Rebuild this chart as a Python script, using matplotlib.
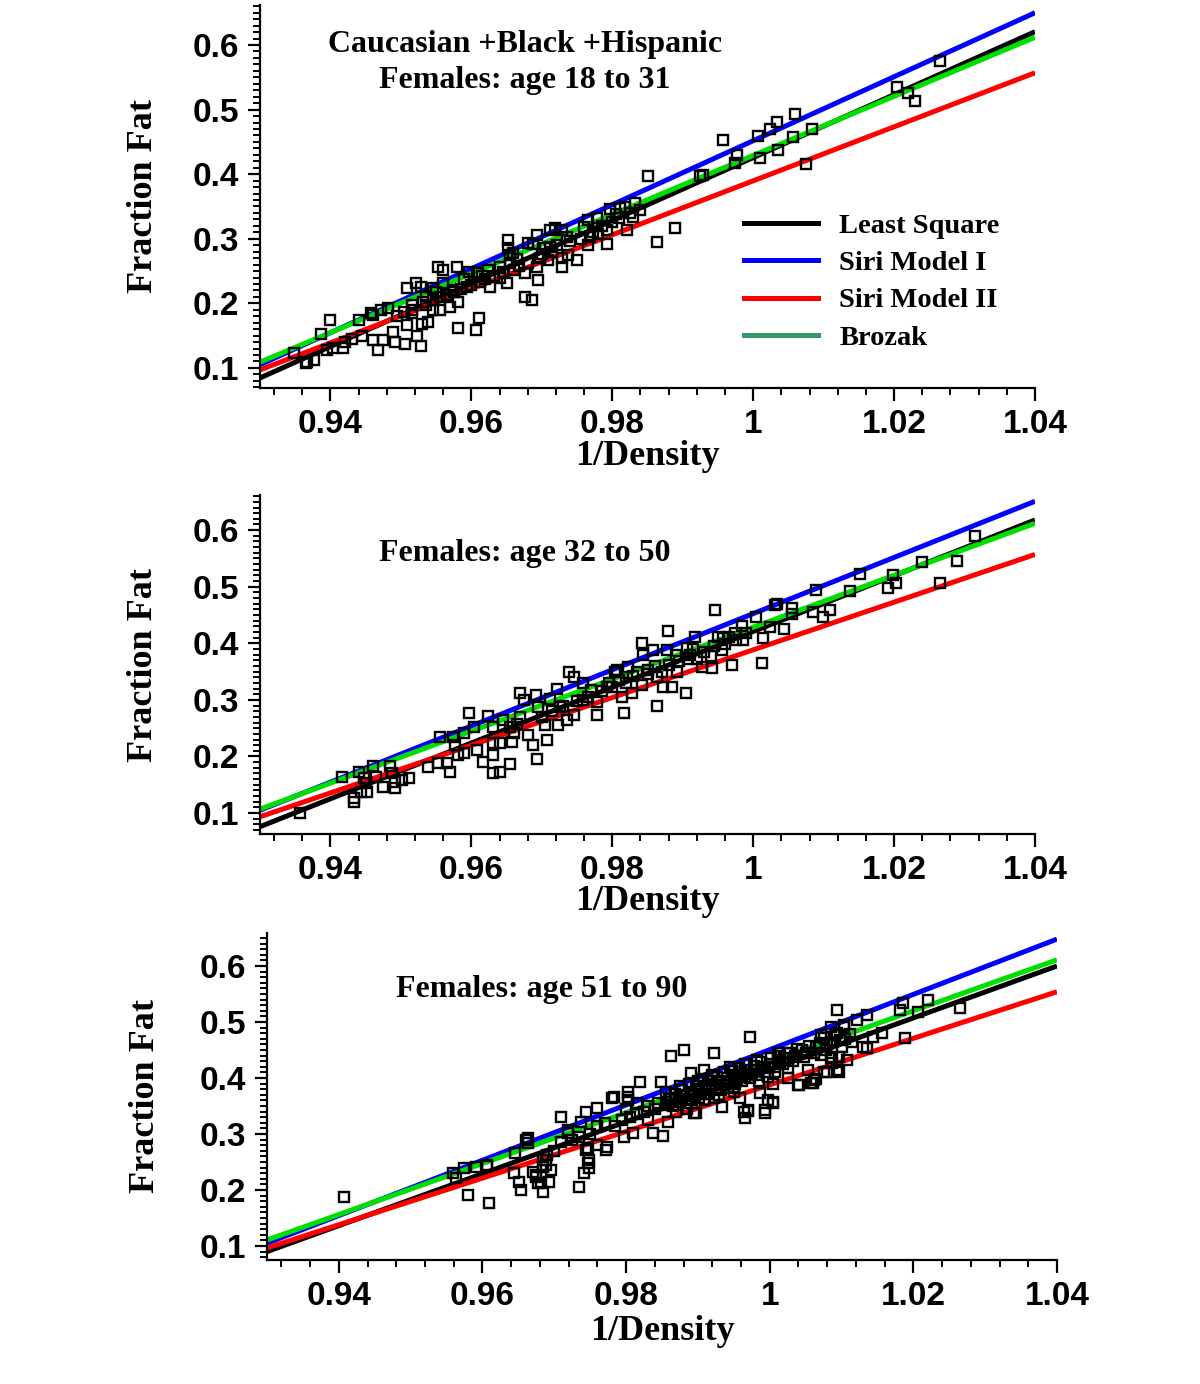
import numpy as np
import matplotlib
matplotlib.use("Agg")
import matplotlib.pyplot as plt
from matplotlib.ticker import MultipleLocator, FormatStrFormatter
from matplotlib.lines import Line2D

# line ends at x = 0.93 and x = 1.04
line_x = [0.93, 1.04]
least_sq = [[0.0845, 0.6206], [0.076, 0.618], [0.090, 0.600]]
siri1 = [[0.105, 0.650], [0.105, 0.651], [0.105, 0.648]]
siri2 = [[0.097, 0.557], [0.0935, 0.557], [0.0964, 0.554]]
brozak = [[0.109, 0.612], [0.107, 0.612], [0.1107, 0.611]]

titles = [["Caucasian +Black +Hispanic", "Females: age 18 to 31"],
          ["Females: age 32 to 50"],
          ["Females: age 51 to 90"]]

# panel 1 data (1/density, fraction fat)
p1 = [(0.9348, 0.123), (0.9365, 0.108), (0.9367, 0.109), (0.9376, 0.112), (0.9386, 0.153),
      (0.9400, 0.174), (0.9404, 0.131), (0.9418, 0.131), (0.9440, 0.174), (0.9457, 0.185),
      (0.9460, 0.143), (0.9460, 0.182), (0.9468, 0.128), (0.9471, 0.190), (0.9475, 0.143),
      (0.9482, 0.193), (0.9489, 0.156), (0.9492, 0.140), (0.9506, 0.137), (0.9509, 0.167),
      (0.9509, 0.224), (0.9516, 0.197), (0.9516, 0.185), (0.9521, 0.232), (0.9523, 0.149),
      (0.9528, 0.225), (0.9528, 0.134), (0.9530, 0.168), (0.9532, 0.202), (0.9539, 0.171),
      (0.9546, 0.224), (0.9546, 0.190), (0.9552, 0.256), (0.9556, 0.190), (0.9560, 0.252),
      (0.9560, 0.232), (0.9570, 0.194), (0.9574, 0.221), (0.9580, 0.256), (0.9581, 0.202),
      (0.9581, 0.162), (0.9594, 0.225), (0.9596, 0.249), (0.9606, 0.159), (0.9608, 0.247),
      (0.9611, 0.177), (0.9623, 0.252), (0.9627, 0.225), (0.9641, 0.256), (0.9651, 0.232),
      (0.9652, 0.298), (0.9652, 0.286), (0.9659, 0.278), (0.9676, 0.247), (0.9676, 0.210),
      (0.9681, 0.294), (0.9686, 0.205), (0.9693, 0.306), (0.9693, 0.256), (0.9695, 0.236),
      (0.9655, 0.275), (0.9688, 0.292), (0.9712, 0.314), (0.9719, 0.317), (0.9729, 0.314),
      (0.9712, 0.287), (0.9698, 0.270), (0.9709, 0.267), (0.9729, 0.270), (0.9737, 0.275),
      (0.9750, 0.267), (0.9729, 0.256), (0.9766, 0.329), (0.9769, 0.303), (0.9766, 0.290),
      (0.9779, 0.332), (0.9793, 0.314), (0.9793, 0.292), (0.9797, 0.346), (0.9811, 0.348),
      (0.9818, 0.349), (0.9821, 0.314), (0.9830, 0.334), (0.9832, 0.356), (0.9850, 0.397),
      (0.9864, 0.295), (0.9889, 0.317), (0.9925, 0.397), (0.9929, 0.399), (0.9957, 0.453),
      (0.9977, 0.430), (0.9974, 0.417), (1.0007, 0.459), (1.0010, 0.425), (1.0024, 0.470),
      (1.0034, 0.481), (1.0035, 0.438), (1.0060, 0.493), (1.0057, 0.458), (1.0084, 0.470),
      (1.0075, 0.416), (1.0204, 0.535), (1.0220, 0.526), (1.0230, 0.514), (1.0265, 0.575),
      (0.9495, 0.180), (0.9505, 0.186), (0.9515, 0.190), (0.9535, 0.198), (0.9545, 0.205),
      (0.9555, 0.210), (0.9565, 0.213), (0.9575, 0.217), (0.9585, 0.222), (0.9600, 0.228),
      (0.9612, 0.233), (0.9620, 0.238), (0.9632, 0.242), (0.9645, 0.248), (0.9660, 0.252),
      (0.9668, 0.258), (0.9680, 0.262), (0.9700, 0.276), (0.9715, 0.280), (0.9722, 0.290),
      (0.9740, 0.296), (0.9755, 0.300), (0.9772, 0.310), (0.9785, 0.320), (0.9800, 0.326),
      (0.9810, 0.332), (0.9825, 0.340), (0.9840, 0.345), (0.9395, 0.128), (0.9430, 0.145),
      (0.9445, 0.150), (0.9420, 0.140), (0.9535, 0.212), (0.9550, 0.218), (0.9590, 0.238),
      (0.9615, 0.243), (0.9640, 0.240), (0.9655, 0.262), (0.9665, 0.268), (0.9705, 0.285),
      (0.9735, 0.303), (0.9760, 0.318), (0.9780, 0.308), (0.9805, 0.338)]

p2 = [(0.9357, 0.100), (0.9417, 0.1635), (0.9433, 0.126), (0.9433, 0.119), (0.9440, 0.172),
      (0.9443, 0.137), (0.9447, 0.162), (0.9450, 0.153), (0.9452, 0.137), (0.9461, 0.183),
      (0.9464, 0.164), (0.9474, 0.146), (0.9485, 0.183), (0.9488, 0.171), (0.9492, 0.155),
      (0.9492, 0.144), (0.9502, 0.158), (0.9511, 0.162), (0.9539, 0.181), (0.9553, 0.188),
      (0.9556, 0.234), (0.9566, 0.188), (0.9570, 0.172), (0.9574, 0.234), (0.9577, 0.220),
      (0.9581, 0.202), (0.9589, 0.206), (0.9589, 0.241), (0.9596, 0.276), (0.9603, 0.252),
      (0.9608, 0.211), (0.9617, 0.190), (0.9623, 0.271), (0.9630, 0.202), (0.9630, 0.171),
      (0.9641, 0.172), (0.9631, 0.252), (0.9630, 0.2235), (0.9641, 0.2235), (0.9645, 0.264),
      (0.9658, 0.225), (0.9655, 0.186), (0.9660, 0.241), (0.9669, 0.312), (0.9674, 0.299),
      (0.9669, 0.269), (0.9681, 0.238), (0.9688, 0.220), (0.9693, 0.195), (0.9691, 0.308),
      (0.9695, 0.287), (0.9708, 0.229), (0.9705, 0.255), (0.9712, 0.301), (0.9722, 0.320),
      (0.9726, 0.287), (0.9723, 0.255), (0.9738, 0.349), (0.9745, 0.340), (0.9736, 0.264),
      (0.9745, 0.273), (0.9759, 0.299), (0.9759, 0.329), (0.9779, 0.273), (0.9779, 0.296),
      (0.9793, 0.322), (0.9804, 0.349), (0.9814, 0.305), (0.9816, 0.276), (0.9807, 0.352),
      (0.9822, 0.358), (0.9828, 0.312), (0.9842, 0.326), (0.9842, 0.400), (0.9844, 0.379),
      (0.9850, 0.352), (0.9858, 0.388), (0.9864, 0.340), (0.9864, 0.289), (0.9872, 0.322),
      (0.9885, 0.322), (0.9879, 0.421), (0.9878, 0.388), (0.9892, 0.349), (0.9904, 0.313),
      (0.9906, 0.391), (0.9908, 0.373), (0.9918, 0.412), (0.9920, 0.373), (0.9928, 0.358),
      (0.9942, 0.356), (0.9946, 0.458), (0.9950, 0.412), (0.9957, 0.409), (0.9956, 0.388),
      (0.9970, 0.361), (0.9974, 0.418), (0.9984, 0.430), (0.9986, 0.405), (1.0004, 0.446),
      (1.0013, 0.365), (1.0014, 0.410), (1.0024, 0.428), (1.0034, 0.469), (1.0044, 0.425),
      (1.0031, 0.467), (1.0055, 0.463), (1.0055, 0.451), (1.0085, 0.455), (1.0099, 0.446),
      (1.0109, 0.458), (1.0089, 0.495), (1.0137, 0.493), (1.0152, 0.523), (1.0191, 0.497),
      (1.0198, 0.520), (1.0203, 0.507), (1.0240, 0.543), (1.0265, 0.506), (1.0289, 0.546),
      (1.0315, 0.590),
      (0.9655, 0.252), (0.9665, 0.258), (0.9700, 0.270), (0.9715, 0.280), (0.9730, 0.290),
      (0.9750, 0.298), (0.9765, 0.305), (0.9785, 0.315), (0.9795, 0.330), (0.9810, 0.335),
      (0.9830, 0.342), (0.9850, 0.345), (0.9860, 0.360), (0.9880, 0.362), (0.9895, 0.368),
      (0.9910, 0.380), (0.9930, 0.385), (0.9945, 0.395), (0.9960, 0.398), (0.9975, 0.405),
      (0.9770, 0.318), (0.9800, 0.322), (0.9820, 0.330), (0.9835, 0.350), (0.9870, 0.350),
      (0.9890, 0.380), (0.9915, 0.390), (0.9940, 0.378), (0.9965, 0.412), (0.9990, 0.418)]

p3 = [(0.9407, 0.1875), (0.9559, 0.230), (0.9563, 0.221), (0.9574, 0.239), (0.9580, 0.191),
      (0.9591, 0.241), (0.9607, 0.243), (0.9607, 0.2447), (0.9609, 0.177), (0.9644, 0.230),
      (0.9646, 0.266), (0.9651, 0.214), (0.9653, 0.200), (0.9660, 0.289), (0.9663, 0.293),
      (0.9663, 0.284), (0.9670, 0.232), (0.9674, 0.223), (0.9674, 0.2268), (0.9678, 0.2125),
      (0.9681, 0.2125), (0.9685, 0.196), (0.9685, 0.241), (0.9692, 0.2143), (0.9695, 0.236),
      (0.9688, 0.2447), (0.9685, 0.2536), (0.9688, 0.254), (0.9709, 0.330), (0.9719, 0.302),
      (0.9719, 0.307), (0.9737, 0.3215), (0.9744, 0.339), (0.9760, 0.3465), (0.9734, 0.2054),
      (0.9741, 0.2304), (0.9747, 0.248), (0.9748, 0.2536), (0.9747, 0.275), (0.9760, 0.2804),
      (0.9774, 0.2768), (0.9744, 0.2714), (0.9748, 0.239), (0.9781, 0.364), (0.9802, 0.375),
      (0.9802, 0.366), (0.9797, 0.2947), (0.9810, 0.302), (0.9820, 0.393), (0.9848, 0.393),
      (0.9838, 0.302), (0.9851, 0.2965), (0.9858, 0.3215), (0.9862, 0.439), (0.9880, 0.450),
      (0.9890, 0.409), (0.9894, 0.3375), (0.9897, 0.3375), (0.9922, 0.4445), (0.9934, 0.348),
      (0.9973, 0.473), (0.9970, 0.343), (0.9966, 0.3286), (0.9964, 0.339), (0.9983, 0.432),
      (0.9772, 0.2714), (0.9783, 0.366), (0.9802, 0.3607), (0.9994, 0.3375), (1.0004, 0.357),
      (0.9997, 0.418), (1.0011, 0.432), (1.0025, 0.418), (1.0040, 0.3875), (1.0060, 0.391),
      (1.0064, 0.398), (1.0075, 0.411), (1.0096, 0.411), (1.0085, 0.436), (1.0071, 0.477),
      (1.0085, 0.491), (1.0091, 0.477), (1.0103, 0.491), (1.0094, 0.5215), (1.0122, 0.5036),
      (1.0136, 0.5125), (1.0130, 0.4554), (1.0136, 0.4536), (1.0144, 0.473), (1.0157, 0.480),
      (1.0189, 0.4715), (1.0182, 0.5215), (1.0185, 0.534), (1.0221, 0.539), (1.0265, 0.525),
      (1.0108, 0.432), (1.0206, 0.518), (0.9908, 0.414), (0.9950, 0.384), (0.9959, 0.364),
      (0.9970, 0.341), (0.9987, 0.373), (0.9998, 0.3607), (1.0004, 0.3554), (0.9994, 0.343),
      (1.0008, 0.411), (0.9997, 0.402), (1.0026, 0.4445), (1.0053, 0.414), (1.0057, 0.391),
      (1.0061, 0.3965), (1.0041, 0.3875), (1.0071, 0.441), (1.0087, 0.4375), (1.0096, 0.4375),
      (1.0087, 0.427), (1.0080, 0.411), (1.0094, 0.414), (1.0098, 0.468), (1.0103, 0.4945),
      (1.0094, 0.480), (1.0075, 0.4715), (1.0011, 0.4445),
      (0.9785, 0.315), (0.9795, 0.325), (0.9805, 0.330), (0.9815, 0.335), (0.9825, 0.340),
      (0.9830, 0.350), (0.9840, 0.345), (0.9845, 0.355), (0.9855, 0.352), (0.9860, 0.362),
      (0.9865, 0.350), (0.9870, 0.365), (0.9875, 0.358), (0.9880, 0.370), (0.9885, 0.362),
      (0.9890, 0.375), (0.9895, 0.368), (0.9900, 0.380), (0.9905, 0.372), (0.9910, 0.385),
      (0.9915, 0.378), (0.9920, 0.390), (0.9925, 0.382), (0.9930, 0.395), (0.9935, 0.388),
      (0.9940, 0.400), (0.9945, 0.392), (0.9950, 0.405), (0.9955, 0.398), (0.9960, 0.410),
      (0.9965, 0.402), (0.9975, 0.408), (0.9980, 0.415), (0.9990, 0.420), (1.0000, 0.425),
      (1.0015, 0.428), (1.0020, 0.435), (1.0035, 0.440), (1.0045, 0.450), (1.0050, 0.445),
      (1.0065, 0.455), (1.0080, 0.460), (1.0100, 0.455), (1.0115, 0.465), (0.9870, 0.340),
      (0.9885, 0.345), (0.9910, 0.360), (0.9930, 0.370), (0.9950, 0.375), (0.9900, 0.395),
      (0.9920, 0.405), (0.9945, 0.420), (0.9965, 0.425), (0.9985, 0.395), (1.0005, 0.390),
      (1.0025, 0.400), (0.9855, 0.375), (0.9875, 0.385), (0.9830, 0.325), (0.9815, 0.355),
      (0.9800, 0.345), (0.9770, 0.320), (0.9760, 0.315), (0.9750, 0.300), (0.9735, 0.295),
      (0.9725, 0.290), (0.9710, 0.285), (0.9700, 0.270), (0.9690, 0.262),
      (0.9862, 0.365), (0.9868, 0.372), (0.9872, 0.352), (0.9878, 0.378), (0.9883, 0.355),
      (0.9888, 0.390), (0.9892, 0.360), (0.9898, 0.386), (0.9902, 0.365), (0.9907, 0.398),
      (0.9912, 0.372), (0.9917, 0.395), (0.9922, 0.365), (0.9927, 0.402), (0.9932, 0.378),
      (0.9937, 0.410), (0.9942, 0.383), (0.9947, 0.412), (0.9952, 0.390), (0.9957, 0.418),
      (0.9962, 0.395), (0.9968, 0.415), (0.9972, 0.400), (0.9978, 0.422), (0.9982, 0.405),
      (0.9988, 0.428), (0.9993, 0.410), (1.0002, 0.435), (1.0008, 0.420), (1.0013, 0.440),
      (1.0018, 0.425), (1.0028, 0.445), (1.0033, 0.430), (1.0038, 0.452), (1.0048, 0.438),
      (1.0055, 0.458), (1.0062, 0.445), (1.0070, 0.462), (1.0078, 0.450), (1.0088, 0.465),
      (1.0105, 0.470), (1.0112, 0.478)]

points = [p1, p2, p3]

# layout in figure fractions (left, bottom, width, height)
boxes = [[0.2167, 0.7197, 0.6458, 0.2767],
         [0.2167, 0.3974, 0.6458, 0.2449],
         [0.2225, 0.0896, 0.6583, 0.2363]]
ylims = [(0.069, 0.662), (0.063, 0.662), (0.075, 0.659)]
title_pos = [[(0.342, 0.898), (0.342, 0.804)], [(0.342, 0.829)], [(0.348, 0.826)]]
xlabel_y = [-0.136, -0.150, -0.168]
ylabel_x = [-0.129, -0.129, -0.133]

serif = 'Liberation Serif'
sans = 'Liberation Sans'

fig = plt.figure(figsize=(12, 13.84), dpi=100)

for i in range(3):
    ax = fig.add_axes(boxes[i])
    ax.plot(line_x, least_sq[i], color='black', lw=3.6, solid_capstyle='butt', zorder=2)
    ax.plot(line_x, siri1[i], color='#0000ff', lw=3.6, solid_capstyle='butt', zorder=2)
    ax.plot(line_x, siri2[i], color='#ff0000', lw=3.6, solid_capstyle='butt', zorder=2)
    ax.plot(line_x, brozak[i], color='#00e000', lw=3.6, solid_capstyle='butt', zorder=2)
    xs = [p[0] for p in points[i]]
    ys = [p[1] for p in points[i]]
    ax.plot(xs, ys, 's', ms=7.8, mfc='none', mec='black', mew=1.7, zorder=3)

    ax.set_xlim(0.93, 1.04)
    ax.set_ylim(*ylims[i])
    for s in ['top', 'right']:
        ax.spines[s].set_visible(False)
    for s in ['left', 'bottom']:
        ax.spines[s].set_linewidth(1.6)
    ax.xaxis.set_major_locator(MultipleLocator(0.02))
    ax.xaxis.set_minor_locator(MultipleLocator(0.004))
    ax.yaxis.set_major_locator(MultipleLocator(0.1))
    ax.yaxis.set_minor_locator(MultipleLocator(0.01))
    ax.xaxis.set_major_formatter(plt.FuncFormatter(lambda v, p: ('%g' % round(v, 4))))
    ax.yaxis.set_major_formatter(FormatStrFormatter('%.1f'))
    ax.tick_params(which='major', direction='out', length=9, width=1.6, pad=6)
    ax.tick_params(which='minor', direction='out', length=5, width=1.4)
    for lab in ax.get_xticklabels() + ax.get_yticklabels():
        lab.set_fontfamily(sans)
        lab.set_fontweight('bold')
        lab.set_fontsize(24)

    ax.set_xlabel('1/Density', fontfamily=serif, fontweight='bold', fontsize=26)
    ax.set_ylabel('Fraction Fat', fontfamily=serif, fontweight='bold', fontsize=26)
    ax.xaxis.set_label_coords(0.5, xlabel_y[i])
    ax.yaxis.set_label_coords(ylabel_x[i], 0.5)

    for t, pos in zip(titles[i], title_pos[i]):
        ax.text(pos[0], pos[1], t, transform=ax.transAxes, ha='center', va='center',
                fontfamily=serif, fontweight='bold', fontsize=23)

    if i == 0:
        handles = [Line2D([], [], color='black', lw=3.6),
                   Line2D([], [], color='#0000ff', lw=3.6),
                   Line2D([], [], color='#ff0000', lw=3.6),
                   Line2D([], [], color='#339966', lw=3.6)]
        names = ['Least Square', 'Siri Model I', 'Siri Model II', 'Brozak']
        ax.legend(handles, names, loc='upper left', bbox_to_anchor=(0.6245, 0.457),
                  frameon=False, borderpad=0, borderaxespad=0, handlelength=2.6,
                  handletextpad=0.75, labelspacing=0.40,
                  prop={'family': serif, 'weight': 'bold', 'size': 20.5})

fig.savefig('out.png', dpi=100, facecolor='white')
